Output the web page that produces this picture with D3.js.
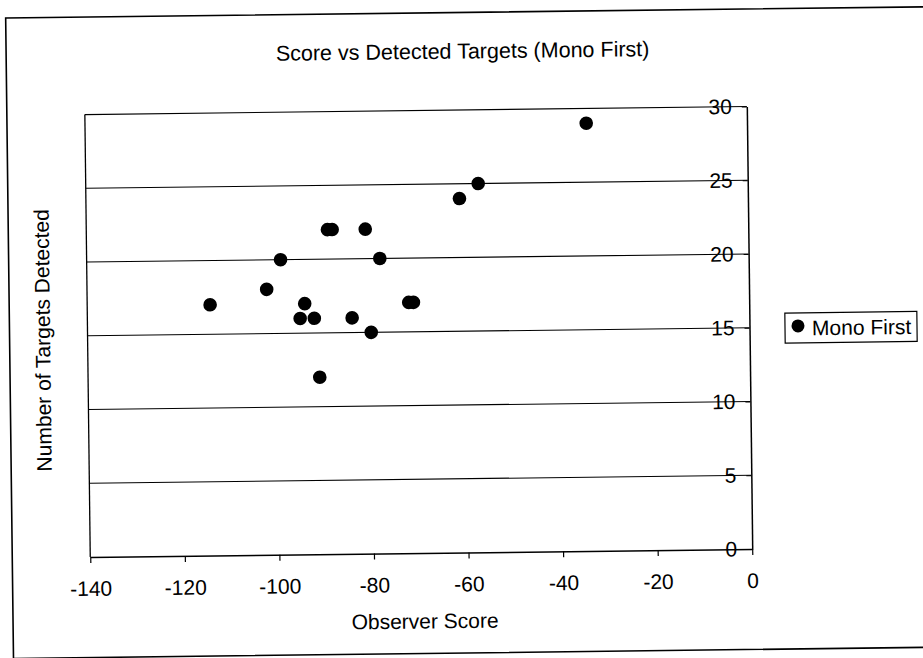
<!DOCTYPE html>
<html>
<head>
<meta charset="utf-8">
<script src="https://cdn.jsdelivr.net/npm/d3@7"></script>
<style>
  html, body { margin: 0; padding: 0; background: #fff; }
  svg { display: block; font-family: "Liberation Sans", Arial, sans-serif; }
</style>
</head>
<body>
<svg id="chart" width="923" height="658"></svg>
<script>
// ---- Data ----
const title = "Score vs Detected Targets (Mono First)";
const xLabel = "Observer Score";
const yLabel = "Number of Targets Detected";
const seriesName = "Mono First";
const observerScore = [-114, -102, -99, -89, -88, -81, -78, -94, -95, -92, -84, -80, -91, -34, -57, -61, -72, -71];
const targetsDetected = [17, 18, 20, 22, 22, 22, 20, 17, 16, 16, 16, 15, 12, 29, 25, 24, 17, 17];
const xTicks = [-140, -120, -100, -80, -60, -40, -20, 0];
const yTicks = [0, 5, 10, 15, 20, 25, 30];

// ---- Layout ----
const W = 923, H = 658;
const plot = { left: 87.5, right: 749.5, top: 110, bottom: 552.5 };
const FS = 21;
const fmt = d => String(d); // plain hyphen-minus as in the original

const svg = d3.select("#chart");
svg.append("rect").attr("width", W).attr("height", H).attr("fill", "#fff");

// slight scan tilt of the original
const root = svg.append("g").attr("transform", "rotate(-0.7, 461, 329)");

// outer chart frame
root.append("rect")
  .attr("x", 9.5).attr("y", 12.5).attr("width", 930).attr("height", 640.5)
  .attr("fill", "none").attr("stroke", "#000").attr("stroke-width", 1.6);

const x = d3.scaleLinear().domain([-140, 0]).range([plot.left, plot.right]);
const y = d3.scaleLinear().domain([0, 30]).range([plot.bottom, plot.top]);

// gridlines
root.append("g").selectAll("line")
  .data(yTicks.filter(d => d > 0))
  .join("line")
  .attr("x1", plot.left).attr("x2", plot.right)
  .attr("y1", d => y(d)).attr("y2", d => y(d))
  .attr("stroke", "#000").attr("stroke-width", 1.1);

// plot frame left edge
root.append("line")
  .attr("x1", plot.left).attr("x2", plot.left)
  .attr("y1", plot.top).attr("y2", plot.bottom)
  .attr("stroke", "#000").attr("stroke-width", 1.3);

// x axis
const xAxis = root.append("g")
  .attr("transform", `translate(0,${y(0)})`)
  .call(d3.axisBottom(x).tickValues(xTicks).tickSize(6).tickPadding(18).tickSizeOuter(0).tickFormat(fmt));
xAxis.select(".domain").attr("stroke", "#000").attr("stroke-width", 1.5);
xAxis.selectAll(".tick line").attr("stroke", "#000").attr("stroke-width", 1.2);
xAxis.selectAll("text").attr("font-size", FS).attr("fill", "#000")
  .attr("font-family", "Liberation Sans, Arial, sans-serif");

// y axis at x = 0
const yAxis = root.append("g")
  .attr("transform", `translate(${x(0)},0)`)
  .call(d3.axisLeft(y).tickValues(yTicks).tickSize(5).tickPadding(10).tickSizeOuter(0).tickFormat(fmt));
yAxis.select(".domain").attr("stroke", "#000").attr("stroke-width", 1.5);
yAxis.selectAll(".tick line").attr("stroke", "#000").attr("stroke-width", 1.1);
yAxis.selectAll("text").attr("font-size", FS).attr("fill", "#000")
  .attr("font-family", "Liberation Sans, Arial, sans-serif");

// points
const pts = observerScore.map((v, i) => ({ x: v, y: targetsDetected[i] }));
root.append("g").selectAll("circle")
  .data(pts)
  .join("circle")
  .attr("cx", d => x(d.x)).attr("cy", d => y(d.y))
  .attr("r", 6.8).attr("fill", "#000");

// title
root.append("text")
  .attr("x", 466).attr("y", 58.5)
  .attr("text-anchor", "middle").attr("font-size", 21.5).attr("fill", "#000")
  .text(title);

// x label
root.append("text")
  .attr("x", (plot.left + plot.right) / 2 + 3).attr("y", 628)
  .attr("text-anchor", "middle").attr("font-size", FS).attr("fill", "#000")
  .text(xLabel);

// y label
root.append("text")
  .attr("transform", `translate(50,${(plot.top + plot.bottom) / 2 + 4}) rotate(-90)`)
  .attr("text-anchor", "middle").attr("font-size", FS).attr("fill", "#000")
  .text(yLabel);

// legend
const lg = root.append("g").attr("transform", "translate(785,317)");
lg.append("rect").attr("width", 132).attr("height", 30)
  .attr("fill", "#fff").attr("stroke", "#000").attr("stroke-width", 1.2);
lg.append("circle").attr("cx", 13).attr("cy", 13).attr("r", 6.5).attr("fill", "#000");
lg.append("text").attr("x", 27).attr("y", 22.5).attr("font-size", FS).attr("fill", "#000").text(seriesName);
</script>
</body>
</html>
